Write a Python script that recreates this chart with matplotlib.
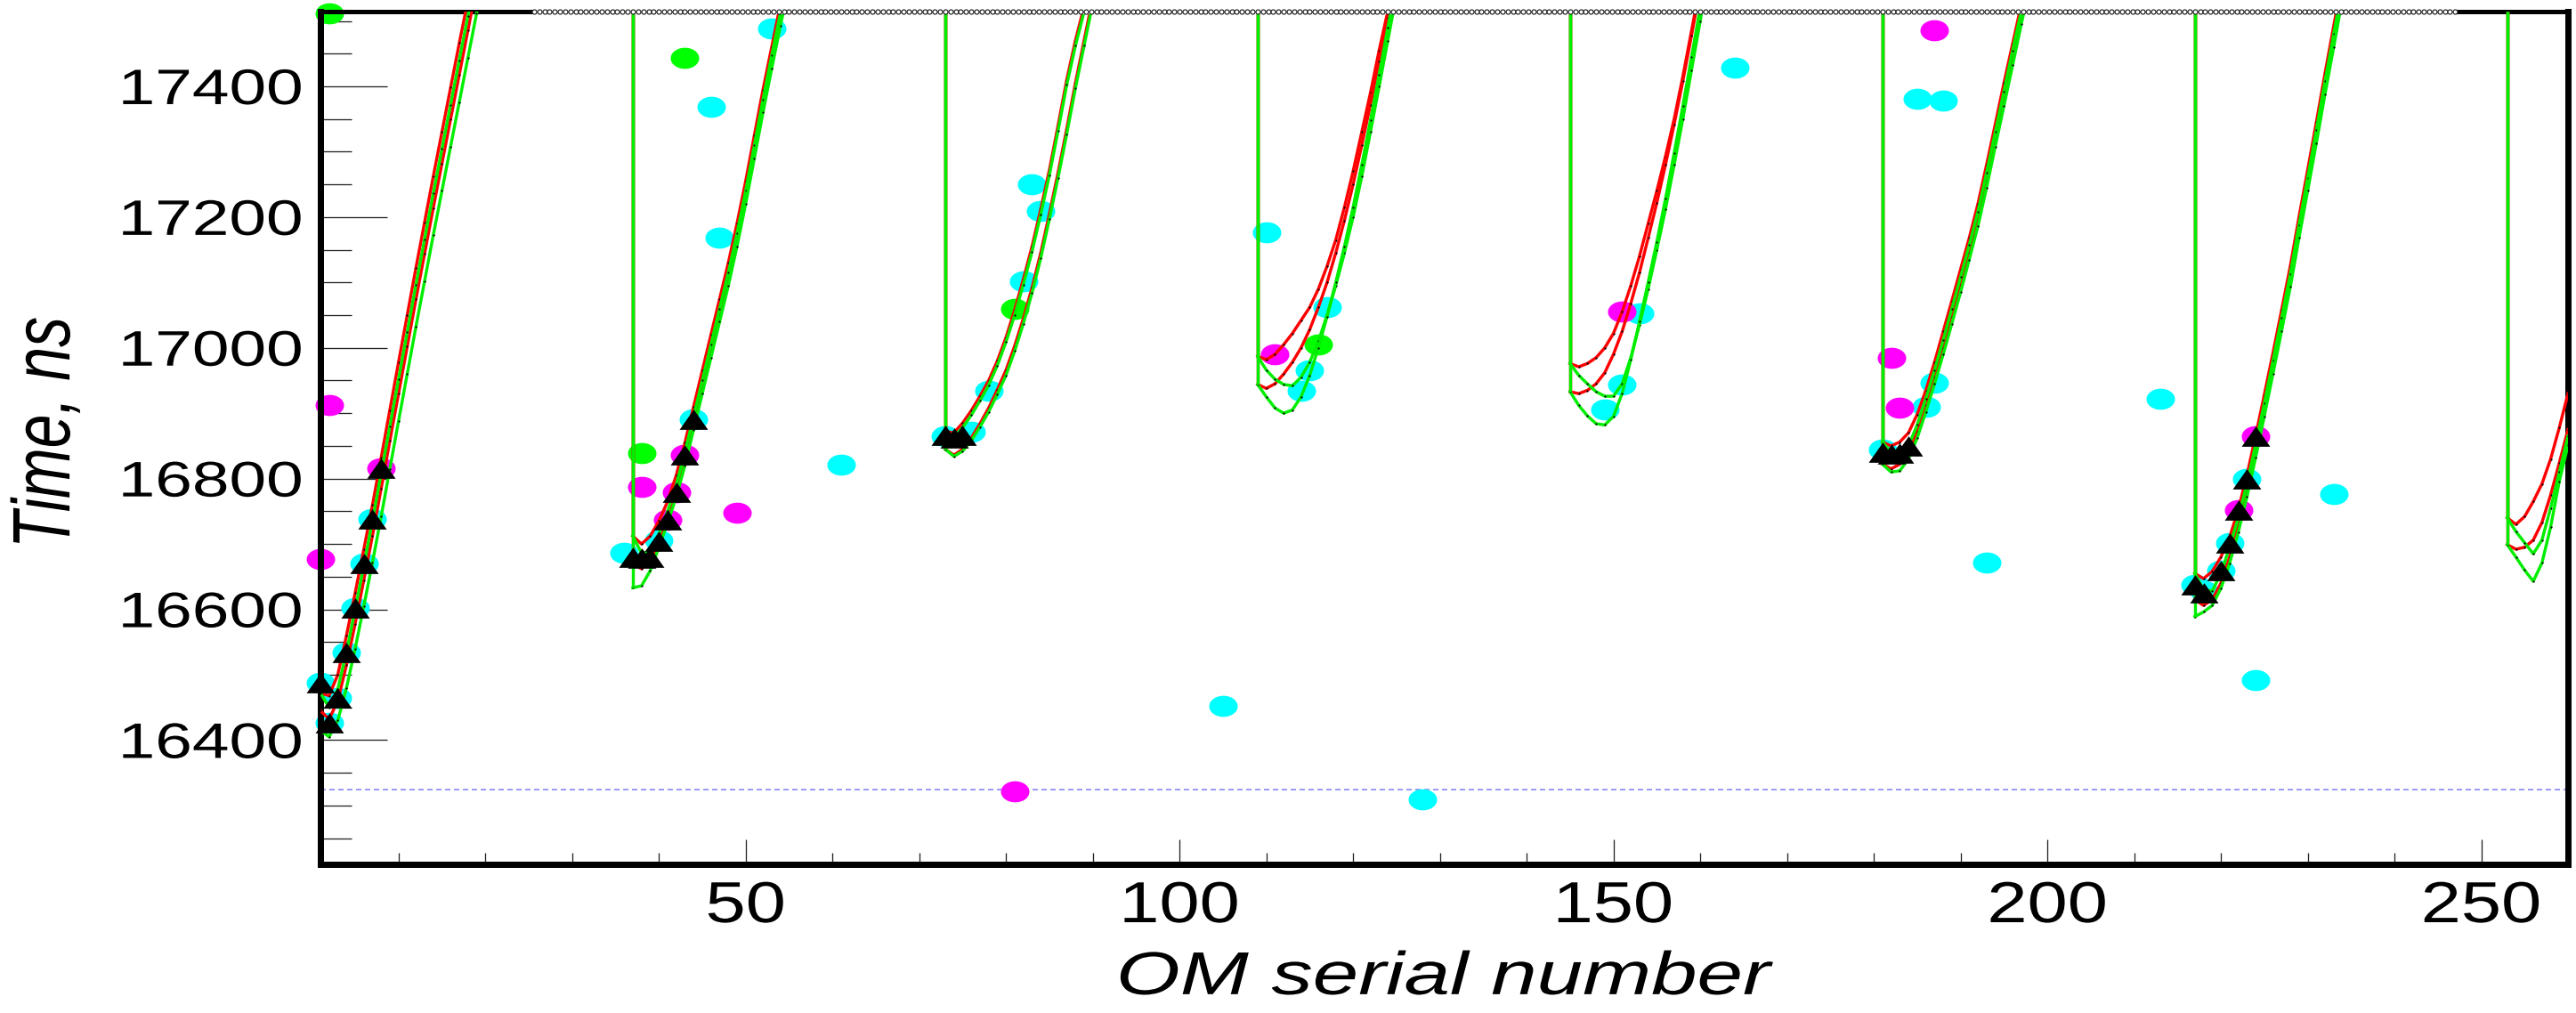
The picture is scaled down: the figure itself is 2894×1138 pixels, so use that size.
import numpy as np
import matplotlib
matplotlib.use("Agg")
import matplotlib.pyplot as plt
from matplotlib.path import Path
from matplotlib.patheffects import AbstractPathEffect
from matplotlib.transforms import Affine2D
from matplotlib.ticker import FixedLocator, MultipleLocator

# ---------------------------------------------------------------- data ----
# first OM of every string (36 OMs per string)
STRING_FIRST_OM = [1, 37, 73, 109, 145, 181, 217, 253]

# expected hit times (ns), one list per string, OM by OM from its first OM
RED_A = [
    [16472, 16468, 16500, 16560, 16625, 16692, 16760, 16832, 16905, 16978, 17050, 17122, 17192, 17262, 17330, 17398, 17466, 17532, 17600],
    [16712, 16700, 16712, 16735, 16765, 16805, 16855, 16910, 16965, 17020, 17075, 17130, 17190, 17255, 17325, 17395, 17460, 17525, 17590],
    [16872, 16870, 16885, 16904, 16926, 16950, 16980, 17016, 17058, 17105, 17155, 17212, 17272, 17340, 17410, 17470, 17522, 17580],
    [16987, 16982, 16990, 17005, 17022, 17042, 17062, 17090, 17125, 17165, 17215, 17270, 17330, 17390, 17455, 17515, 17575],
    [16976, 16971, 16976, 16985, 17000, 17022, 17055, 17095, 17140, 17190, 17240, 17293, 17350, 17415, 17485, 17555],
    [16856, 16850, 16856, 16870, 16898, 16935, 16978, 17025, 17072, 17120, 17168, 17220, 17280, 17342, 17405, 17465, 17525, 17585],
    [16655, 16647, 16658, 16680, 16710, 16752, 16805, 16865, 16928, 16992, 17058, 17125, 17200, 17272, 17345, 17420, 17492, 17565],
    [16740, 16730, 16742, 16765, 16792, 16830, 16878, 16930],
]
GREEN_A = [
    [16472, 16450, 16478, 16535, 16600, 16667, 16736, 16808, 16880, 16952, 17024, 17096, 17166, 17236, 17304, 17372, 17440, 17508, 17576],
    [16712, 16686, 16688, 16715, 16750, 16790, 16840, 16895, 16950, 17005, 17060, 17115, 17175, 17240, 17310, 17380, 17447, 17512, 17575],
    [16872, 16864, 16878, 16897, 16919, 16943, 16973, 17009, 17050, 17097, 17147, 17204, 17264, 17332, 17402, 17462, 17514, 17572],
    [16987, 16966, 16952, 16944, 16942, 16955, 16978, 17010, 17050, 17095, 17145, 17200, 17262, 17330, 17400, 17470, 17540],
    [16976, 16958, 16945, 16933, 16926, 16926, 16945, 16985, 17035, 17090, 17150, 17212, 17280, 17350, 17425, 17500, 17575],
    [16856, 16840, 16836, 16850, 16882, 16922, 16966, 17012, 17060, 17108, 17157, 17208, 17268, 17330, 17392, 17455, 17515, 17575],
    [16655, 16630, 16628, 16655, 16695, 16740, 16792, 16852, 16915, 16980, 17046, 17113, 17188, 17260, 17333, 17408, 17480, 17553],
    [16740, 16719, 16702, 16685, 16706, 16755, 16810, 16865],
]
RED_B = [
    [16445, 16432, 16460, 16515, 16578, 16645, 16713, 16785, 16858, 16930, 17002, 17074, 17144, 17214, 17282, 17350, 17418, 17486, 17554],
    [16670, 16662, 16675, 16702, 16738, 16780, 16830, 16885, 16940, 16995, 17050, 17105, 17165, 17230, 17300, 17370, 17437, 17502, 17565],
    [16845, 16836, 16845, 16862, 16884, 16908, 16936, 16966, 17003, 17045, 17092, 17145, 17205, 17268, 17335, 17405, 17470, 17535],
    [16944, 16938, 16945, 16960, 16978, 17000, 17028, 17062, 17100, 17145, 17195, 17250, 17310, 17372, 17438, 17505, 17570],
    [16933, 16930, 16935, 16945, 16962, 16990, 17025, 17068, 17115, 17168, 17222, 17280, 17342, 17408, 17478, 17550],
    [16822, 16815, 16822, 16840, 16872, 16912, 16955, 17000, 17048, 17096, 17145, 17196, 17255, 17318, 17380, 17442, 17505, 17565],
    [16615, 16606, 16615, 16640, 16680, 16728, 16782, 16842, 16905, 16970, 17036, 17103, 17178, 17250, 17323, 17398, 17470, 17543],
    [16699, 16692, 16695, 16706, 16733, 16775, 16824, 16875],
]
GREEN_B = [
    [16415, 16405, 16430, 16480, 16540, 16605, 16672, 16742, 16815, 16888, 16960, 17032, 17102, 17172, 17240, 17308, 17376, 17444, 17512, 17580],
    [16633, 16636, 16659, 16695, 16732, 16772, 16820, 16875, 16930, 16985, 17040, 17095, 17155, 17220, 17290, 17360, 17427, 17492, 17555],
    [16845, 16834, 16842, 16858, 16879, 16902, 16929, 16958, 16995, 17037, 17084, 17137, 17197, 17260, 17327, 17397, 17462, 17527],
    [16944, 16925, 16908, 16900, 16905, 16925, 16958, 17000, 17048, 17100, 17155, 17215, 17280, 17348, 17418, 17490, 17560],
    [16933, 16912, 16896, 16884, 16882, 16895, 16930, 16982, 17040, 17100, 17162, 17228, 17298, 17370, 17445, 17520, 17595],
    [16822, 16810, 16812, 16830, 16862, 16902, 16945, 16990, 17037, 17085, 17135, 17186, 17245, 17308, 17370, 17432, 17495, 17555],
    [16589, 16596, 16606, 16632, 16670, 16718, 16772, 16832, 16895, 16960, 17026, 17093, 17168, 17240, 17313, 17388, 17460, 17533],
    [16699, 16680, 16660, 16643, 16671, 16726, 16796, 16851],
]

# registered hits
CYAN_OM = [1, 2, 3, 4, 5, 6, 7, 36, 40, 44, 46, 47, 53, 61, 73, 76, 78, 82, 83, 84,
           105, 110, 114, 115, 117, 128, 149, 151, 153, 164, 181, 185, 186, 187, 188,
           193, 213, 217, 218, 220, 221, 223, 224, 233]
CYAN_T = [16488, 16426, 16464, 16534, 16602, 16670, 16738, 16687, 16705, 16891, 17368,
          17169, 17489, 16821, 16865, 16872, 16935, 17102, 17250, 17209, 16453, 17176,
          16935, 16965, 17062, 16310, 16906, 16944, 17053, 17429, 16844, 17381, 16910,
          16947, 17378, 16672, 16922, 16638, 16628, 16659, 16702, 16800, 16492, 16777]
MAGENTA_OM = [1, 2, 8, 38, 41, 42, 43, 49, 81, 111, 151, 182, 183, 187, 222, 224]
MAGENTA_T = [16677, 16912, 16816, 16787, 16737, 16779, 16836, 16748, 16322, 16990,
             17055, 16985, 16909, 17486, 16752, 16865]
GREEN_OM = [2, 38, 43, 81, 116]
GREEN_T = [17512, 16839, 17443, 17060, 17005]

# hits selected for the track fit
FIT_OM = [1, 2, 3, 4, 5, 6, 7, 8, 37, 38, 39, 40, 41, 42, 43, 44, 73, 74, 75,
          181, 182, 183, 184, 217, 218, 220, 221, 222, 223, 224]
FIT_T = [16488, 16426, 16464, 16534, 16602, 16670, 16738, 16816, 16680, 16678, 16680,
         16704, 16737, 16779, 16836, 16891, 16866, 16862, 16866, 16841, 16837, 16839,
         16850, 16638, 16625, 16659, 16702, 16752, 16800, 16865]

X_TICKS = [50, 100, 150, 200, 250]
Y_TICKS = [16400, 16600, 16800, 17000, 17200, 17400]
OM_RANGE = (1, 260)
T_RANGE = (16210, 17515)
T_REFERENCE = 16324
OVERFLOW_OM = (25.6, 247.1)

# ------------------------------------------------------------- styling ----
W, H, DPI = 2894, 1138, 100
PX = 72.0 / DPI          # points per pixel


class HStretch(AbstractPathEffect):
    """Widen glyph outlines horizontally around a chosen anchor."""

    def __init__(self, factor, anchor="center"):
        super().__init__()
        self.factor = factor
        self.anchor = anchor

    def draw_path(self, renderer, gc, tpath, affine, rgbFace=None):
        box = tpath.get_extents(affine)
        if self.anchor == "right":
            x0 = box.x1
        elif self.anchor == "left":
            x0 = box.x0
        else:
            x0 = 0.5 * (box.x0 + box.x1)
        widen = Affine2D().translate(-x0, 0).scale(self.factor, 1.0).translate(x0, 0)
        renderer.draw_path(gc, tpath, affine + widen, rgbFace)


plt.rcParams["font.family"] = ["Liberation Sans", "DejaVu Sans"]

fig = plt.figure(figsize=(W / DPI, H / DPI), dpi=DPI)
fig.patch.set_facecolor("white")
ax = fig.add_axes([360 / W, 1 - 971 / H, (2885 - 360) / W, (971 - 12.5) / H])
ax.set_xlim(*OM_RANGE)
ax.set_ylim(*T_RANGE)

theta = np.linspace(0, 2 * np.pi, 73)
ELLIPSE = Path(np.column_stack([1.35 * np.cos(theta), np.sin(theta)]), closed=True)
TRIANGLE = Path([(-1, -0.71), (1, -0.71), (0, 0.71), (-1, -0.71)], closed=True)
MARK = 32 * PX
LW = 3.4 * PX

# reference level
ax.axhline(T_REFERENCE, color="#9c9cf4", lw=2 * PX, dashes=(3, 2), zorder=1.5)

# hits (drawn whole even where they touch the frame)
for om, t, col in [(CYAN_OM, CYAN_T, "#00ffff"),
                   (GREEN_OM, GREEN_T, "#00ff00"),
                   (MAGENTA_OM, MAGENTA_T, "#ff00ff")]:
    ax.plot(om, t, ls="none", marker=ELLIPSE, ms=MARK, mfc=col, mec="none", mew=0,
            zorder=2, clip_on=False)

# expected times for the two track hypotheses
for curves, col in [(RED_A, "#ff0000"), (RED_B, "#ff0000"),
                    (GREEN_A, "#00ee00"), (GREEN_B, "#00ee00")]:
    for k, (om0, vals) in enumerate(zip(STRING_FIRST_OM, curves)):
        om = np.arange(om0, om0 + len(vals))
        ax.plot(om, vals, color=col, lw=LW, zorder=3, marker="o", ms=2.2 * PX,
                mfc="black", mec="none", mew=0)
        if k:
            ax.vlines(om0, vals[0], T_RANGE[1], colors=col, lw=LW, zorder=3)

# fitted hits
ax.plot(FIT_OM, FIT_T, ls="none", marker=TRIANGLE, ms=MARK, mfc="black", mec="none",
        mew=0, zorder=4, clip_on=False)

# overflow row along the upper frame
ax.plot(list(OVERFLOW_OM), [1, 1], transform=ax.get_xaxis_transform(), color="white",
        lw=6 * PX, solid_capstyle="butt", zorder=5, clip_on=False)
row = np.arange(OVERFLOW_OM[0], OVERFLOW_OM[1], 0.6)
ax.plot(row, np.ones_like(row), transform=ax.get_xaxis_transform(), color="#444444",
        lw=1 * PX, marker="o", ms=5 * PX, mfc="white", mec="#222222", mew=1.2 * PX,
        zorder=6, clip_on=False)

# frame
for side in ["left", "bottom", "right"]:
    ax.spines[side].set_linewidth(7 * PX)
ax.spines["top"].set_linewidth(5 * PX)

# ticks
ax.xaxis.set_major_locator(FixedLocator(X_TICKS))
ax.xaxis.set_minor_locator(MultipleLocator(10))
ax.yaxis.set_major_locator(FixedLocator(Y_TICKS))
ax.yaxis.set_minor_locator(MultipleLocator(50))
ax.tick_params(axis="both", which="both", direction="in", color="#222222",
               width=1.3 * PX, top=False, right=False, labelcolor="black")
ax.tick_params(axis="y", which="major", length=75 * PX, pad=20 * PX, labelsize=56 * PX)
ax.tick_params(axis="y", which="minor", length=35 * PX)
ax.tick_params(axis="x", which="major", length=28 * PX, pad=18 * PX, labelsize=65 * PX)
ax.tick_params(axis="x", which="minor", length=13.5 * PX)

ax.set_xlabel("OM serial number", fontsize=68 * PX, style="italic")
ax.xaxis.set_label_coords(0.5, -0.100)
ax.set_ylabel("Time, ns", fontsize=68 * PX, style="italic", va="center")
ax.yaxis.set_label_coords((53 - 360) / 2525, 0.506)

for lab in ax.get_yticklabels():
    lab.set_path_effects([HStretch(1.336, "right")])
for lab in ax.get_xticklabels():
    lab.set_path_effects([HStretch(1.25)])
ax.xaxis.label.set_path_effects([HStretch(1.36)])
ax.yaxis.label.set_path_effects([HStretch(1.35)])

fig.savefig("out.png", dpi=DPI, facecolor="white")
